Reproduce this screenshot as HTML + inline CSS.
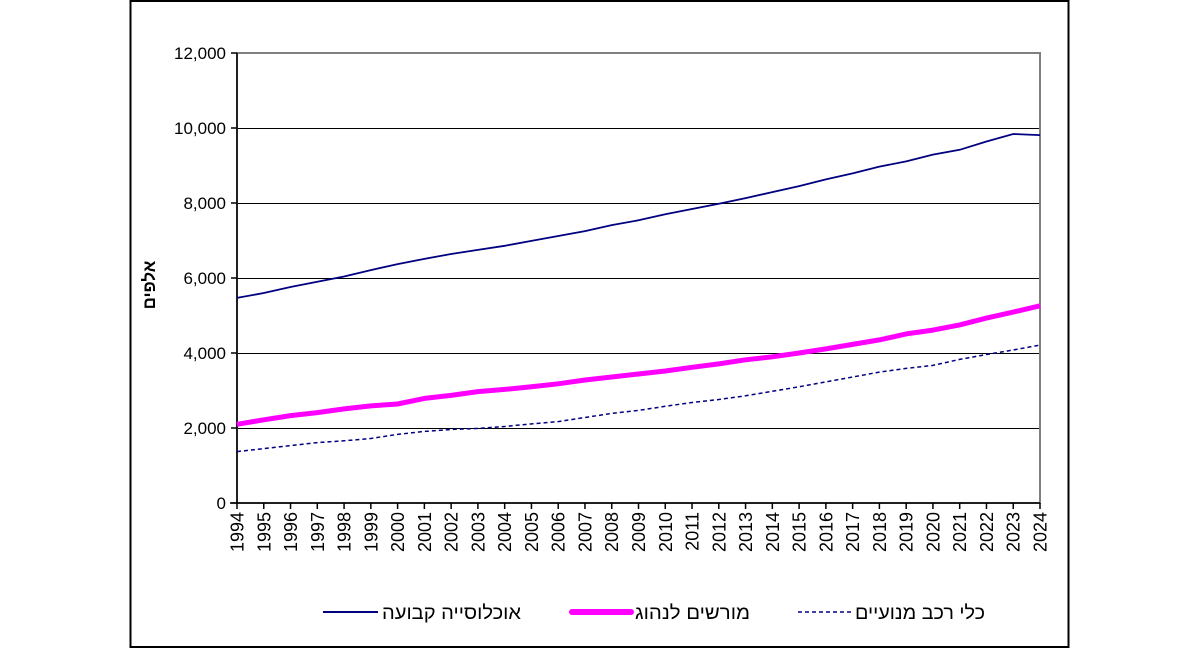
<!DOCTYPE html>
<html><head><meta charset="utf-8"><style>
html,body{margin:0;padding:0;background:#fff;}
svg text{font-family:"Liberation Sans",Arial,sans-serif;}
</style></head><body>
<svg id="s" width="1200" height="649" viewBox="0 0 1200 649" xmlns="http://www.w3.org/2000/svg">
<rect x="130.5" y="1" width="938" height="646" fill="#fff" stroke="#000" stroke-width="2"/>
<g id="grid"></g>
<rect x="237" y="53" width="803" height="450" fill="none" stroke="#808080" stroke-width="2"/>
<line x1="237" y1="53" x2="237" y2="503" stroke="#000" stroke-width="1.5"/>
<line x1="230" y1="503" x2="1040" y2="503" stroke="#000" stroke-width="1.5"/>
<g id="ticks"></g>
<text transform="translate(155,285) rotate(-90)" text-anchor="middle" font-size="17" font-weight="bold">אלפים</text>
<g id="series"></g>
<line x1="323" y1="612" x2="378" y2="612" stroke="#000080" stroke-width="2"/>
<text x="382" y="619" font-size="19" textLength="139" lengthAdjust="spacingAndGlyphs">אוכלוסייה קבועה</text>
<line x1="572" y1="612" x2="631" y2="612" stroke="#ff00ff" stroke-width="6" stroke-linecap="round"/>
<text x="635" y="619" font-size="19" textLength="115" lengthAdjust="spacingAndGlyphs">מורשים לנהוג</text>
<line x1="798" y1="612" x2="852" y2="612" stroke="#000080" stroke-width="1.5" stroke-dasharray="4,3"/>
<text x="855" y="619" font-size="19" textLength="130" lengthAdjust="spacingAndGlyphs">כלי רכב מנועיים</text>
</svg>
<script>
var NS="http://www.w3.org/2000/svg";
function el(t,a,p,txt){var e=document.createElementNS(NS,t);for(var k in a)e.setAttribute(k,a[k]);if(txt!==undefined)e.textContent=txt;document.getElementById(p).appendChild(e);return e;}
var X0=237,X1=1040,dx=(X1-X0)/30;
function Y(v){return 503-v*0.0375;}
for(var v=2000;v<=10000;v+=2000){var yy=Math.round(Y(v))+0.5;el("line",{x1:237,x2:1040,y1:yy,y2:yy,stroke:"#000","stroke-width":1},"grid");}
for(var v=0;v<=12000;v+=2000){var y=Y(v);el("line",{x1:231,x2:237,y1:y,y2:y,stroke:"#000","stroke-width":1.5},"ticks");
el("text",{x:226,y:y+6,"text-anchor":"end","font-size":"17"},"ticks",v.toLocaleString("en-US"));}
for(var i=0;i<=30;i++){var x=X0+i*dx;el("line",{x1:x,x2:x,y1:503,y2:509,stroke:"#000","stroke-width":1.5},"ticks");
el("text",{transform:"translate("+(x+6.5)+",512) rotate(-90)","text-anchor":"end","font-size":"18"},"ticks",String(1994+i));}
var pop=[5470,5600,5760,5900,6040,6210,6370,6510,6640,6750,6860,6990,7120,7250,7410,7540,7700,7840,7980,8130,8290,8450,8630,8790,8970,9110,9290,9420,9640,9840,9810];
var lic=[2100,2220,2330,2410,2510,2590,2640,2790,2870,2970,3030,3100,3180,3280,3360,3440,3520,3620,3710,3820,3900,4000,4110,4230,4350,4510,4610,4750,4930,5090,5260];
var veh=[1370,1450,1530,1610,1660,1720,1830,1910,1960,1990,2040,2110,2170,2280,2390,2470,2580,2680,2760,2860,2980,3100,3230,3360,3490,3590,3670,3830,3960,4080,4210];
function pts(a){return a.map(function(v,i){return (X0+i*dx).toFixed(1)+","+Y(v).toFixed(1);}).join(" ");}
el("polyline",{points:pts(veh),fill:"none",stroke:"#000080","stroke-width":1.5,"stroke-dasharray":"4,3"},"series");
el("polyline",{points:pts(lic),fill:"none",stroke:"#ff00ff","stroke-width":5,"stroke-linejoin":"round"},"series");
el("polyline",{points:pts(pop),fill:"none",stroke:"#000080","stroke-width":1.8},"series");
</script>
</body></html>
